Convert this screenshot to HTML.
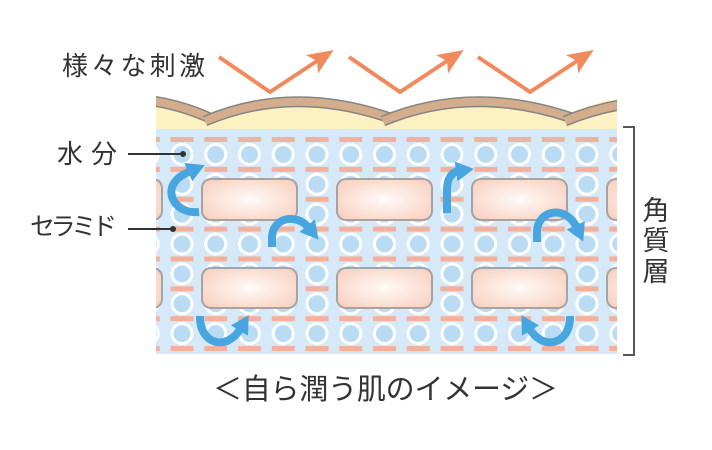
<!DOCTYPE html>
<html><head><meta charset="utf-8"><style>
html,body{margin:0;padding:0;background:#fff;}
svg{display:block;}
text{font-family:"Liberation Sans","Noto Sans CJK JP",sans-serif;fill:#333;}
</style></head><body>
<svg width="712" height="450" viewBox="0 0 712 450" xmlns="http://www.w3.org/2000/svg">
<defs>
  <clipPath id="skin"><rect x="156" y="80" width="461" height="274"/></clipPath>
  <radialGradient id="cellg" cx="0.5" cy="0.5" r="0.6">
    <stop offset="0" stop-color="#fffaf7"/>
    <stop offset="1" stop-color="#f8d3c4"/>
  </radialGradient>
  <pattern id="grid" patternUnits="userSpaceOnUse" x="165.125" y="139.5" width="33.75" height="29.86">
    <rect x="5.4" y="-2.5" width="23" height="5" fill="#f5b09c"/>
    <rect x="5.4" y="27.36" width="23" height="5" fill="#f5b09c"/>
    <circle cx="16.875" cy="14.93" r="10" fill="#b9dcf4" stroke="#ffffff" stroke-width="3"/>
  </pattern>
  <marker id="bh" markerUnits="userSpaceOnUse" viewBox="0 0 18 20" markerWidth="18" markerHeight="20" refX="3" refY="10" orient="auto">
    <path d="M0,0 L18,10 L0,20 Z" fill="#47a6e0"/>
  </marker>
  <marker id="oh" markerUnits="userSpaceOnUse" viewBox="0 0 26 22" markerWidth="26" markerHeight="22" refX="6" refY="11" orient="auto">
    <path d="M0,0 L26,11 L0,22 L6,11 Z" fill="#f08a5d"/>
  </marker>
</defs>

<!-- orange stimulus arrows -->
<g fill="none" stroke="#f08a5d" stroke-width="4" stroke-linejoin="miter">
  <path d="M219,57 L270,92 L317,61" marker-end="url(#oh)"/>
  <path d="M349,57 L400,92 L447,61" marker-end="url(#oh)"/>
  <path d="M478,57 L530,92 L577,61" marker-end="url(#oh)"/>
</g>

<g clip-path="url(#skin)">
  <!-- yellow layer -->
  <path d="M150,97 Q181,100 207,115 Q290,80 385,114 Q470,80 567,114 Q600,100 625,98 L625,130 L150,130 Z" fill="#fcf1c1"/>
  <!-- blue base -->
  <rect x="150" y="129" width="475" height="225" fill="#d6e9f8"/>
  <rect x="150" y="136.5" width="475" height="215" fill="url(#grid)"/>
  <!-- cells -->
  <g fill="url(#cellg)" stroke="#a4a4a4" stroke-width="2">
    <rect x="67" y="179" width="95" height="41" rx="9"/>
    <rect x="202" y="179" width="95" height="41" rx="9"/>
    <rect x="337" y="179" width="95" height="41" rx="9"/>
    <rect x="472" y="179" width="95" height="41" rx="9"/>
    <rect x="607" y="179" width="95" height="41" rx="9"/>
    <rect x="67" y="268" width="95" height="40" rx="9"/>
    <rect x="202" y="268" width="95" height="40" rx="9"/>
    <rect x="337" y="268" width="95" height="40" rx="9"/>
    <rect x="472" y="268" width="95" height="40" rx="9"/>
    <rect x="607" y="268" width="95" height="40" rx="9"/>
  </g>
  <!-- scales -->
  <g fill="none" stroke-linecap="butt">
    <path d="M145,100 Q180,104 212,119" stroke="#858585" stroke-width="11"/>
    <path d="M145,100 Q180,104 212,119" stroke="#d4ae8c" stroke-width="8"/>
    <path d="M205,121 Q292,84 390,118" stroke="#858585" stroke-width="11"/>
    <path d="M205,121 Q292,84 390,118" stroke="#d4ae8c" stroke-width="8"/>
    <path d="M383,121 Q472,84 572,118" stroke="#858585" stroke-width="11"/>
    <path d="M383,121 Q472,84 572,118" stroke="#d4ae8c" stroke-width="8"/>
    <path d="M565,121 Q655,84 745,117" stroke="#858585" stroke-width="11"/>
    <path d="M565,121 Q655,84 745,117" stroke="#d4ae8c" stroke-width="8"/>
  </g>
</g>

<!-- blue circulation arrows -->
<g fill="none" stroke="#47a6e0" stroke-width="8" stroke-linecap="butt">
  <path d="M199,212 C178,214 167,197 173,185 C177,177 184,174 191,171" marker-end="url(#bh)"/>
  <path d="M272,247 L272,238 C272,218 296,212 309,228" marker-end="url(#bh)"/>
  <path d="M200,316 C199,343 226,353 241,328" marker-end="url(#bh)"/>
  <path d="M447,213 L447,190 C447,178 452,172 459,171" marker-end="url(#bh)"/>
  <path d="M537,242 L537,232 C537,210 566,204 577,228" marker-end="url(#bh)"/>
  <path d="M570,316 C571,343 544,353 529,328" marker-end="url(#bh)"/>
</g>

<!-- label leaders -->
<g stroke="#333" stroke-width="2">
  <line x1="128" y1="154" x2="183" y2="154"/>
  <line x1="128" y1="229" x2="173" y2="229"/>
</g>
<circle cx="183" cy="154" r="3" fill="#333"/>
<circle cx="173" cy="229" r="3" fill="#333"/>

<!-- bracket -->
<path d="M623,127 L634,127 L634,355 L623,355" fill="none" stroke="#555" stroke-width="2"/>

<!-- labels -->
<text x="62" y="75" font-size="26" textLength="143" lengthAdjust="spacing">様々な刺激</text>
<text x="57" y="163" font-size="26" textLength="60" lengthAdjust="spacing">水分</text>
<text x="30" y="235" font-size="25" textLength="87" lengthAdjust="spacing">セラミド</text>
<text x="656" y="220" font-size="27" text-anchor="middle">角</text>
<text x="656" y="250" font-size="27" text-anchor="middle">質</text>
<text x="656" y="281" font-size="27" text-anchor="middle">層</text>
<text x="213" y="399" font-size="29" textLength="345" lengthAdjust="spacing">＜自ら潤う肌のイメージ＞</text>
</svg>
</body></html>
